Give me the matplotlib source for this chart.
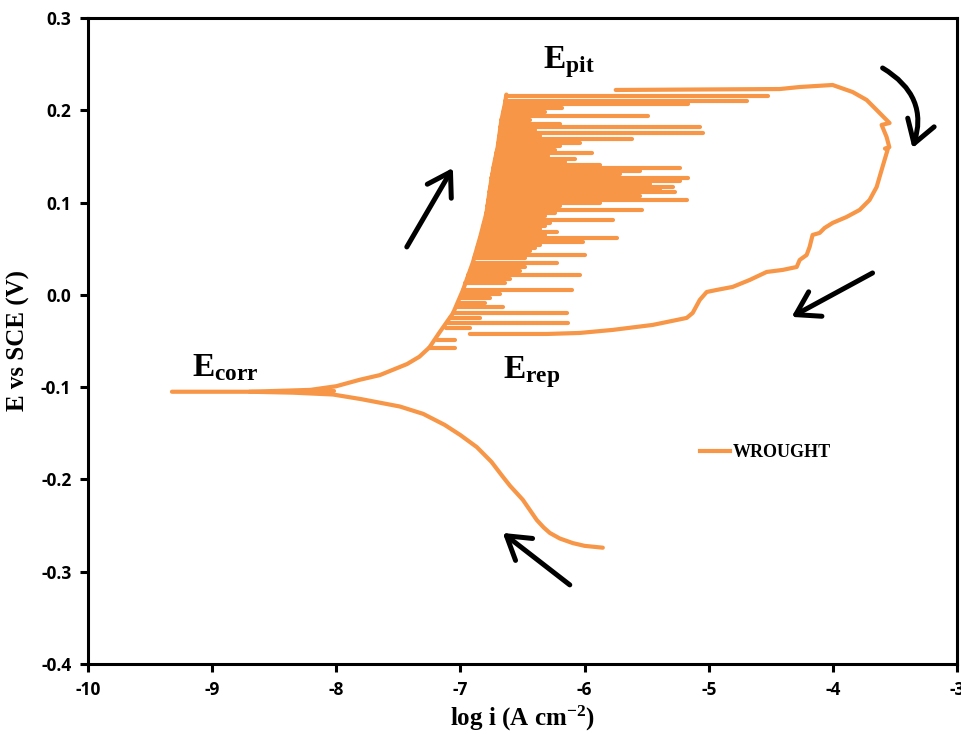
import numpy as np
import matplotlib
matplotlib.use('Agg')
import matplotlib.pyplot as plt
from matplotlib.lines import Line2D

plt.rcParams['font.family'] = ['Open Sans', 'DejaVu Sans']
plt.rcParams['mathtext.fontset'] = 'custom'
plt.rcParams['mathtext.rm'] = 'Liberation Serif:bold'
plt.rcParams['mathtext.bf'] = 'Liberation Serif:bold'
plt.rcParams['mathtext.it'] = 'Liberation Serif:bold'

ORANGE = '#F79646'

# cathodic branch (end of scan -> Ecorr)
cath_i = [-5.853, -6.00, -6.095, -6.20, -6.280, -6.33, -6.385, -6.498, -6.60, -6.659, -6.75,
          -6.868, -7.00, -7.126, -7.30, -7.488, -7.80, -8.027, -8.35, -8.696, -9.324]
cath_E = [-0.274, -0.272, -0.269, -0.264, -0.258, -0.252, -0.244, -0.222, -0.207, -0.197, -0.181,
          -0.165, -0.152, -0.141, -0.129, -0.121, -0.113, -0.108, -0.106, -0.105, -0.105]

# anodic base curve (Ecorr -> Epit)
anod_i = [-8.70, -8.21, -8.00, -7.81, -7.65, -7.54, -7.43, -7.33, -7.25, -7.17, -7.06, -6.98,
          -6.90, -6.84, -6.79, -6.76, -6.73, -6.70, -6.67, -6.64, -6.63]
anod_E = [-0.105, -0.103, -0.099, -0.092, -0.087, -0.081, -0.075, -0.067, -0.057, -0.041, -0.020,
          0.005, 0.035, 0.063, 0.089, 0.117, 0.141, 0.160, 0.189, 0.208, 0.217]

# metastable pitting current transients
spike_E = [0.2155, 0.2101, 0.2068, 0.2025, 0.1982, 0.1938, 0.1895, 0.1852, 0.1819, 0.1787,
           0.1754, 0.1722, 0.1689, 0.1646, 0.1613, 0.1570, 0.1537, 0.1505, 0.1472, 0.1440,
           0.1407, 0.1375, 0.1342, 0.1310, 0.1267, 0.1234, 0.1202, 0.1169, 0.1137, 0.1115,
           0.1072, 0.1028, 0.0996, 0.0963, 0.0920, 0.0887, 0.0855, 0.0811, 0.0779, 0.0746,
           0.0714, 0.0681, 0.0649, 0.0616, 0.0573, 0.0541, 0.0508, 0.0476, 0.0432, 0.0400,
           0.0346, 0.0302, 0.0259, 0.0216, 0.0172, 0.0129, 0.0053, 0.0010, -0.0033, -0.0088,
           -0.0131, -0.0196, -0.0250, -0.0304, -0.0359, -0.0489, -0.0575, -0.104]
spike_start = [-6.63, -6.64, -6.64, -6.65, -6.655, -6.66, -6.67, -6.67, -6.68, -6.68,
               -6.685, -6.69, -6.69, -6.695, -6.70, -6.705, -6.71, -6.715, -6.72, -6.725,
               -6.73, -6.735, -6.74, -6.745, -6.75, -6.75, -6.755, -6.76, -6.763, -6.766,
               -6.77, -6.775, -6.78, -6.782, -6.786, -6.79, -6.795, -6.80, -6.81, -6.815,
               -6.82, -6.83, -6.835, -6.84, -6.85, -6.855, -6.865, -6.87, -6.88, -6.89,
               -6.90, -6.91, -6.925, -6.935, -6.945, -6.96, -6.98, -6.99, -7.00, -7.01,
               -7.03, -7.06, -7.08, -7.10, -7.12, -7.19, -7.25, -8.20]
spike_end = [-4.525, -4.694, -5.169, -6.184, -6.320, -5.491, -6.441, -6.200, -5.072, -6.401,
             -5.048, -6.361, -5.620, -6.039, -6.200, -6.240, -5.942, -6.296, -6.079, -6.159,
             -5.878, -5.234, -5.556, -5.717, -5.169, -5.234, -5.475, -5.290, -5.395, -5.274,
             -5.556, -5.177, -5.878, -6.200, -5.539, -6.240, -6.320, -5.773, -6.280, -6.320,
             -6.361, -6.224, -6.320, -5.741, -6.014, -6.361, -6.401, -6.441, -5.998, -6.481,
             -6.224, -6.481, -6.522, -6.039, -6.602, -6.643, -6.103, -6.683, -6.763, -6.804,
             -6.659, -6.143, -6.844, -6.135, -6.924, -7.045, -7.045, -8.02]

# reverse scan loop (Epit -> Erep)
rev_i = [-5.749, -4.428, -4.267, -4.002, -3.841, -3.728, -3.647, -3.543, -3.607, -3.567,
         -3.545, -3.580, -3.559, -3.583, -3.607, -3.647, -3.704, -3.784, -3.889, -4.002,
         -4.066, -4.106, -4.163, -4.187, -4.211, -4.267, -4.291, -4.404, -4.533, -4.670,
         -4.807, -4.936, -5.016, -5.072, -5.129, -5.177, -5.451, -5.773, -6.039, -6.304, -6.924]
rev_E = [0.2220, 0.2230, 0.2252, 0.2274, 0.2198, 0.2112, 0.2003, 0.1862, 0.1841, 0.1711,
         0.1600, 0.1585, 0.1570, 0.1462, 0.1353, 0.1169, 0.1028, 0.0920, 0.0844, 0.0779,
         0.0725, 0.0671, 0.0649, 0.0519, 0.0432, 0.0378, 0.0302, 0.0270, 0.0248, 0.0161,
         0.0086, 0.0053, 0.0031, -0.0055, -0.0196, -0.0250, -0.0326, -0.0380, -0.0413, -0.0424, -0.0424]

xticks = [-10, -9, -8, -7, -6, -5, -4, -3]
yticks = [-0.4, -0.3, -0.2, -0.1, 0.0, 0.1, 0.2, 0.3]

fig = plt.figure(figsize=(9.61, 7.34), dpi=100)
ax = fig.add_axes([0.0916, 0.0954, 0.9042, 0.8801])

lw = 3.0
ax.plot(cath_i, cath_E, color=ORANGE, lw=lw, solid_capstyle='round', solid_joinstyle='round')
ax.plot(anod_i, anod_E, color=ORANGE, lw=lw, solid_capstyle='round', solid_joinstyle='round')
ax.hlines(spike_E, spike_start, spike_end, color=ORANGE, lw=lw, capstyle='round')
ax.plot(rev_i, rev_E, color=ORANGE, lw=lw, solid_capstyle='round', solid_joinstyle='round')

ax.set_xlim(-10, -3)
ax.set_ylim(-0.4, 0.3)
ax.set_xticks(xticks)
ax.set_yticks(yticks)
ax.set_xticklabels([str(t) for t in xticks])
ax.set_yticklabels(['%.1f' % t for t in yticks])
for s in ax.spines.values():
    s.set_linewidth(2.2)
ax.tick_params(direction='out', length=6, width=2.2, labelsize=12.5, pad=6)
for lab in ax.get_xticklabels() + ax.get_yticklabels():
    lab.set_fontweight('bold')

ax.set_xlabel(r'log i (A cm$^{\mathregular{-2}}$)', family='Liberation Serif', weight='bold',
              fontsize=18, labelpad=4)
ax.set_ylabel('E vs SCE (V)', family='Liberation Serif', weight='bold', fontsize=18, labelpad=8)

# annotations
ax.text(-9.163, -0.097, r'$\mathrm{E_{corr}}$', fontsize=24, va='bottom', ha='left')
ax.text(-6.659, -0.103, r'$\mathrm{E_{rep}}$', fontsize=24, va='bottom', ha='left')
ax.text(-6.337, 0.233, r'$\mathrm{E_{pit}}$', fontsize=24, va='bottom', ha='left')

arrow = dict(arrowstyle='->,head_length=0.8,head_width=0.5', lw=3.6, color='black',
             mutation_scale=20, shrinkA=0, shrinkB=0, capstyle='round')
ax.annotate('', xy=(-7.061, 0.1375), xytext=(-7.432, 0.0519), arrowprops=arrow)
ax.annotate('', xy=(-3.358, 0.159), xytext=(-3.599, 0.2458),
            arrowprops=dict(arrow, connectionstyle='arc3,rad=-0.4'))
ax.annotate('', xy=(-4.332, -0.0239), xytext=(-3.680, 0.0237), arrowprops=arrow)
ax.annotate('', xy=(-6.659, -0.258), xytext=(-6.119, -0.3143), arrowprops=arrow)

handle = Line2D([], [], color=ORANGE, lw=lw)
ax.legend([handle], ['WROUGHT'], loc='center left', bbox_to_anchor=(0.704, 0.327),
          frameon=False, borderpad=0, borderaxespad=0, handlelength=1.7, handletextpad=0.15,
          prop={'family': 'Liberation Serif', 'weight': 'bold', 'size': 13})

fig.savefig('out.png', dpi=100)
